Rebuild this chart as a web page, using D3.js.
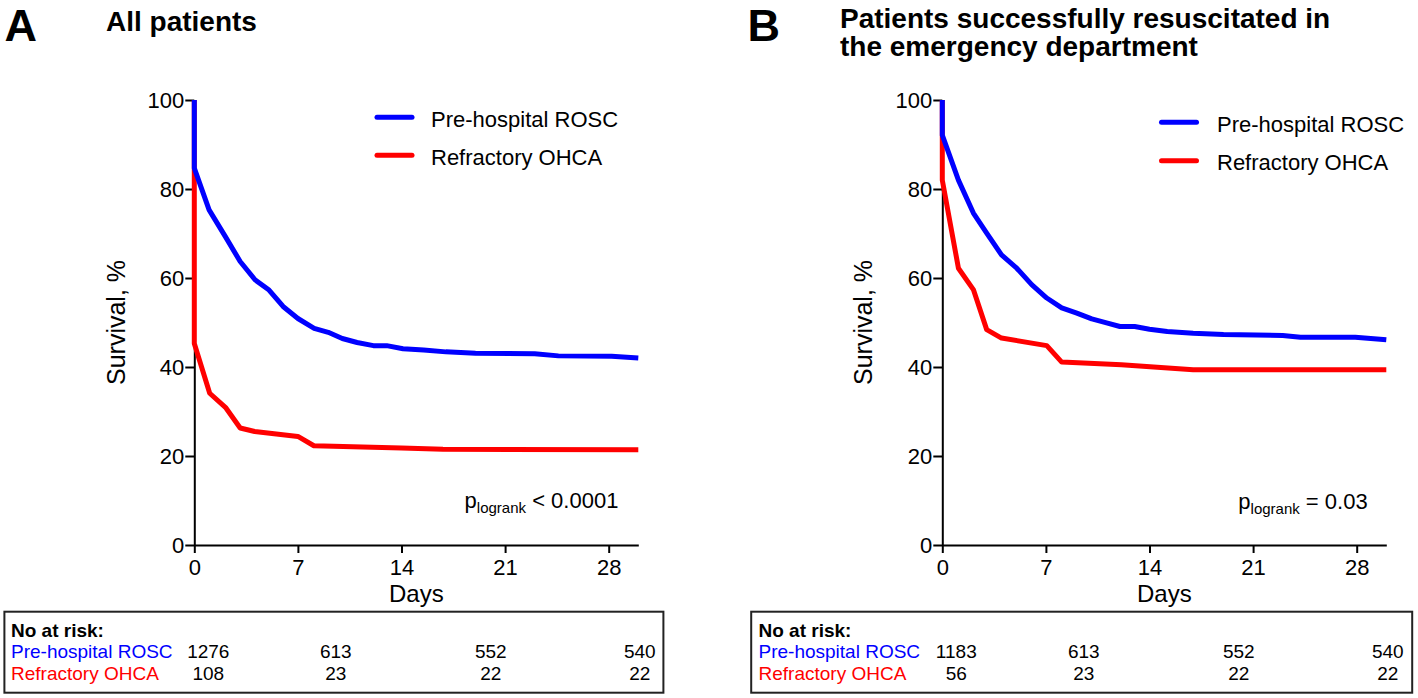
<!DOCTYPE html>
<html><head><meta charset="utf-8">
<script src="https://cdn.jsdelivr.net/npm/d3@7"></script>
<style>
body{margin:0;background:#fff}
text{font-family:"Liberation Sans",Arial,Helvetica,sans-serif}
</style>
</head><body>
<svg id="chart" width="1418" height="698"></svg>
<script>
// ---------- data ----------
const dayTicks = [0, 7, 14, 21, 28];
const survivalTicks = [0, 20, 40, 60, 80, 100];
const seriesNames = ["Pre-hospital ROSC", "Refractory OHCA"];
const seriesColors = ["#0000ff", "#ff0000"];

// Panel A: all patients
const daysA_rosc = [0, 0, 1, 2.1, 3.1, 4.1, 5.05, 6, 7, 8.1, 9.05, 10, 11, 12.1, 13, 14.1, 15.5, 17, 19, 23, 24.6, 28.2, 30];
const survA_rosc = [100, 84.7, 75.3, 69.3, 63.7, 59.6, 57.3, 53.6, 50.9, 48.7, 47.8, 46.4, 45.5, 44.8, 44.8, 44.1, 43.8, 43.4, 43.1, 43.0, 42.5, 42.4, 42.0];
const daysA_ref = [0, 0, 1.04, 2.14, 3.1, 4.08, 7, 8.08, 14, 16.8, 30];
const survA_ref = [100, 45.3, 34.1, 30.8, 26.3, 25.5, 24.4, 22.3, 21.8, 21.5, 21.4];

// Panel B: patients successfully resuscitated in the ED
const daysB_rosc = [0, 0, 1.09, 2.1, 3.0, 4.0, 5.03, 6.04, 7.06, 8.07, 9.09, 10.1, 11.1, 12, 13, 14, 15.2, 16.95, 19, 23, 24.2, 27.9, 30];
const survB_rosc = [100, 92.1, 82.0, 74.6, 70.1, 65.2, 62.2, 58.5, 55.5, 53.3, 52.1, 50.8, 49.9, 49.1, 49.1, 48.5, 48.0, 47.6, 47.3, 47.1, 46.7, 46.7, 46.1];
const daysB_ref = [0, 0, 1.09, 2.1, 3.0, 4.0, 7.06, 8.07, 12.1, 16.95, 30];
const survB_ref = [100, 82.0, 62.2, 57.4, 48.4, 46.5, 44.8, 41.1, 40.5, 39.4, 39.4];

const panelLetters = ["A", "B"];
const panelTitles = [["All patients"], ["Patients successfully resuscitated in", "the emergency department"]];
const pValueTexts = ["< 0.0001", "= 0.03"];
const atRiskHeader = "No at risk:";
const atRiskA_rosc = [1276, 613, 552, 540];
const atRiskA_ref = [108, 23, 22, 22];
const atRiskB_rosc = [1183, 613, 552, 540];
const atRiskB_ref = [56, 23, 22, 22];

// ---------- layout ----------
const svg = d3.select("#chart");
svg.append("rect").attr("width", 1418).attr("height", 698).attr("fill", "#fff");

const panels = [
  { ox: 194.3, letterX: 4.5, titleX: 106, titleY: [31], legLineX: 377, legTextX: 431, legY: [117.3, 155.3], pX: 464.6, pY: 508.3,
    axTitleX: 125, boxX: 4.4, boxW: 659, labelX: 11,
    series: [[daysA_rosc, survA_rosc], [daysA_ref, survA_ref]], risk: [atRiskA_rosc, atRiskA_ref] },
  { ox: 942.3, letterX: 747.5, titleX: 840, titleY: [27.7, 56], legLineX: 1161.5, legTextX: 1217, legY: [122.3, 160.7], pX: 1238.3, pY: 509.3,
    axTitleX: 872, boxX: 751.2, boxW: 661, labelX: 758.5,
    series: [[daysB_rosc, survB_rosc], [daysB_ref, survB_ref]], risk: [atRiskB_rosc, atRiskB_ref] }
];
const plotW = 444, yTop = 100, yBottom = 545;
const riskColOffsets = d3.scaleOrdinal().domain([0, 1, 2, 3]).range([14, 141.5, 296.5, 445.5]);

panels.forEach((p, pi) => {
  const g = svg.append("g");
  const x = d3.scaleLinear().domain([0, 30]).range([p.ox, p.ox + plotW]);
  const y = d3.scaleLinear().domain([0, 100]).range([yBottom, yTop]);

  // panel letter and title
  g.append("text").attr("x", p.letterX).attr("y", 41).attr("font-size", 45).attr("font-weight", "bold").text(panelLetters[pi]);
  panelTitles[pi].forEach((t, i) => {
    g.append("text").attr("x", p.titleX).attr("y", p.titleY[i]).attr("font-size", 28).attr("font-weight", "bold").text(t);
  });

  // axes
  const xAxis = g.append("g").attr("transform", `translate(0,${yBottom})`)
    .call(d3.axisBottom(x).tickValues(dayTicks).tickSize(8).tickPadding(6).tickSizeOuter(0));
  const yAxis = g.append("g").attr("transform", `translate(${p.ox},0)`)
    .call(d3.axisLeft(y).tickValues(survivalTicks).tickSize(9).tickPadding(1).tickSizeOuter(0));
  [xAxis, yAxis].forEach(a => {
    a.select(".domain").attr("stroke", "#000").attr("stroke-width", 2);
    a.selectAll(".tick line").attr("stroke", "#000").attr("stroke-width", 2);
    a.selectAll(".tick text").attr("font-size", 22).attr("fill", "#000")
      .attr("font-family", "'Liberation Sans',Arial,Helvetica,sans-serif");
  });

  // axis titles
  g.append("text").attr("x", p.ox + plotW / 2).attr("y", 601.7).attr("text-anchor", "middle").attr("font-size", 24).text("Days");
  g.append("text").attr("transform", `translate(${p.axTitleX},${(yTop + yBottom) / 2}) rotate(-90)`)
    .attr("text-anchor", "middle").attr("font-size", 25).text("Survival, %");

  // curves: refractory first, ROSC on top
  const line = d3.line().x(d => x(d[0])).y(d => y(d[1]));
  [1, 0].forEach(si => {
    const [ds, vs] = p.series[si];
    const pts = ds.map((d, i) => [d, vs[i]]);
    g.append("path").datum(pts).attr("d", line).attr("fill", "none")
      .attr("stroke", seriesColors[si]).attr("stroke-width", 5).attr("stroke-linejoin", "round");
  });

  // legend
  seriesNames.forEach((n, si) => {
    g.append("line").attr("x1", p.legLineX).attr("x2", p.legLineX + 35).attr("y1", p.legY[si]).attr("y2", p.legY[si])
      .attr("stroke", seriesColors[si]).attr("stroke-width", 5).attr("stroke-linecap", "round");
    g.append("text").attr("x", p.legTextX).attr("y", p.legY[si] + 9.2).attr("font-size", 22).text(n);
  });

  // p-value
  const pt = g.append("text").attr("x", p.pX).attr("y", p.pY).attr("font-size", 22);
  pt.append("tspan").text("p");
  pt.append("tspan").attr("font-size", 15).attr("dy", 5).text("logrank");
  pt.append("tspan").attr("dy", -5).text(" " + pValueTexts[pi]);

  // number at risk table
  g.append("rect").attr("x", p.boxX).attr("y", 611.7).attr("width", p.boxW).attr("height", 81)
    .attr("fill", "none").attr("stroke", "#222").attr("stroke-width", 2);
  g.append("text").attr("x", p.labelX).attr("y", 636.7).attr("font-size", 19).attr("font-weight", "bold").text(atRiskHeader);
  const rowY = [658.3, 680];
  seriesNames.forEach((n, si) => {
    g.append("text").attr("x", p.labelX).attr("y", rowY[si]).attr("font-size", 19).attr("fill", seriesColors[si]).text(n);
    p.risk[si].forEach((v, ci) => {
      g.append("text").attr("x", p.ox + riskColOffsets(ci)).attr("y", rowY[si]).attr("font-size", 19)
        .attr("text-anchor", "middle").text(v);
    });
  });
});
</script>
</body></html>
